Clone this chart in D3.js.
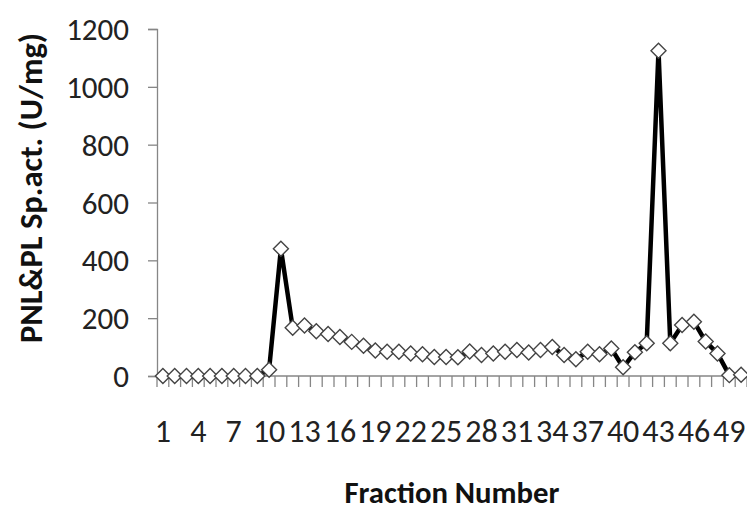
<!DOCTYPE html>
<html>
<head>
<meta charset="utf-8">
<script src="https://cdn.jsdelivr.net/npm/d3@7"></script>
<style>
  html, body { margin: 0; padding: 0; background: #fff; }
  svg { display: block; }
</style>
</head>
<body>
<svg id="chart" width="747" height="510"></svg>
<script>
// ---- data ----
const fractions = d3.range(1, 51);
const activity = [
  0, 0, 0, 0, 0, 0, 0, 0, 0, 22,
  440, 167, 175, 155, 145, 135, 118, 105, 88, 84,
  84, 78, 75, 66, 66, 65, 85, 73, 78, 84,
  90, 81, 90, 100, 73, 58, 84, 75, 95, 30,
  82, 113, 1125, 113, 176, 188, 119, 78, 3, 4
];
const yTicks = [0, 200, 400, 600, 800, 1000, 1200];
const xLabelEvery = 3;
const yTitle = "PNL&PL Sp.act. (U/mg)";
const xTitle = "Fraction Number";

// ---- layout ----
const svg = d3.select("#chart");
const plotL = 157, plotR = 747, plotT = 29, plotB = 376;
const font = "Carlito, 'Open Sans', 'Liberation Sans', sans-serif";
const axisColor = "#868686";

const x = d3.scaleBand().domain(fractions).range([plotL, plotR]).paddingInner(0).paddingOuter(0);
const y = d3.scaleLinear().domain([0, 1200]).range([plotB, plotT]);
const cx = d => x(d) + x.bandwidth() / 2;

// y axis
const yAxis = d3.axisLeft(y).tickValues(yTicks).tickFormat(d3.format("d")).tickSize(9).tickPadding(20);
const gy = svg.append("g").attr("transform", `translate(${plotL},0)`).call(yAxis);
gy.select(".domain").attr("stroke", axisColor).attr("stroke-width", 1.3);
gy.selectAll(".tick line").attr("stroke", axisColor).attr("stroke-width", 1.3);
gy.selectAll(".tick text")
  .attr("font-family", font).attr("font-size", 31).attr("fill", "#222")
  .attr("x", -(plotL - 129)).attr("dy", "0.34em");

// x axis line + ticks at category boundaries
svg.append("line").attr("x1", plotL).attr("x2", plotR).attr("y1", plotB).attr("y2", plotB)
  .attr("stroke", axisColor).attr("stroke-width", 1.3);
const bounds = fractions.map(d => x(d)).concat([x(fractions[fractions.length - 1]) + x.bandwidth()]);
svg.append("g").selectAll("line").data(bounds).join("line")
  .attr("x1", d => d).attr("x2", d => d)
  .attr("y1", plotB).attr("y2", plotB + 11)
  .attr("stroke", axisColor).attr("stroke-width", 1.3);

// x tick labels
svg.append("g").selectAll("text")
  .data(fractions.filter((d, i) => i % xLabelEvery === 0))
  .join("text")
  .attr("x", d => cx(d)).attr("y", 442)
  .attr("text-anchor", "middle")
  .attr("font-family", font).attr("font-size", 32).attr("fill", "#222")
  .text(d => d);

// line
const pts = fractions.map((f, i) => [cx(f), y(activity[i])]);
svg.append("path")
  .attr("d", d3.line()(pts))
  .attr("fill", "none").attr("stroke", "#000").attr("stroke-width", 4.5)
  .attr("stroke-linejoin", "miter");

// diamond markers
svg.append("g").selectAll("path").data(pts).join("path")
  .attr("d", d => `M${d[0]},${d[1]-7.5}L${d[0]+7.5},${d[1]}L${d[0]},${d[1]+7.5}L${d[0]-7.5},${d[1]}Z`)
  .attr("fill", "#fff").attr("stroke", "#444").attr("stroke-width", 1.4);

// titles
svg.append("text")
  .attr("transform", `translate(42,188) rotate(-90)`)
  .attr("text-anchor", "middle")
  .attr("font-family", font).attr("font-size", 32).attr("font-weight", "bold").attr("fill", "#111")
  .attr("textLength", 310).attr("lengthAdjust", "spacingAndGlyphs")
  .text(yTitle);

svg.append("text")
  .attr("x", 452).attr("y", 503)
  .attr("text-anchor", "middle")
  .attr("font-family", font).attr("font-size", 30).attr("font-weight", "bold").attr("fill", "#111")
  .attr("textLength", 215).attr("lengthAdjust", "spacingAndGlyphs")
  .text(xTitle);
</script>
</body>
</html>
